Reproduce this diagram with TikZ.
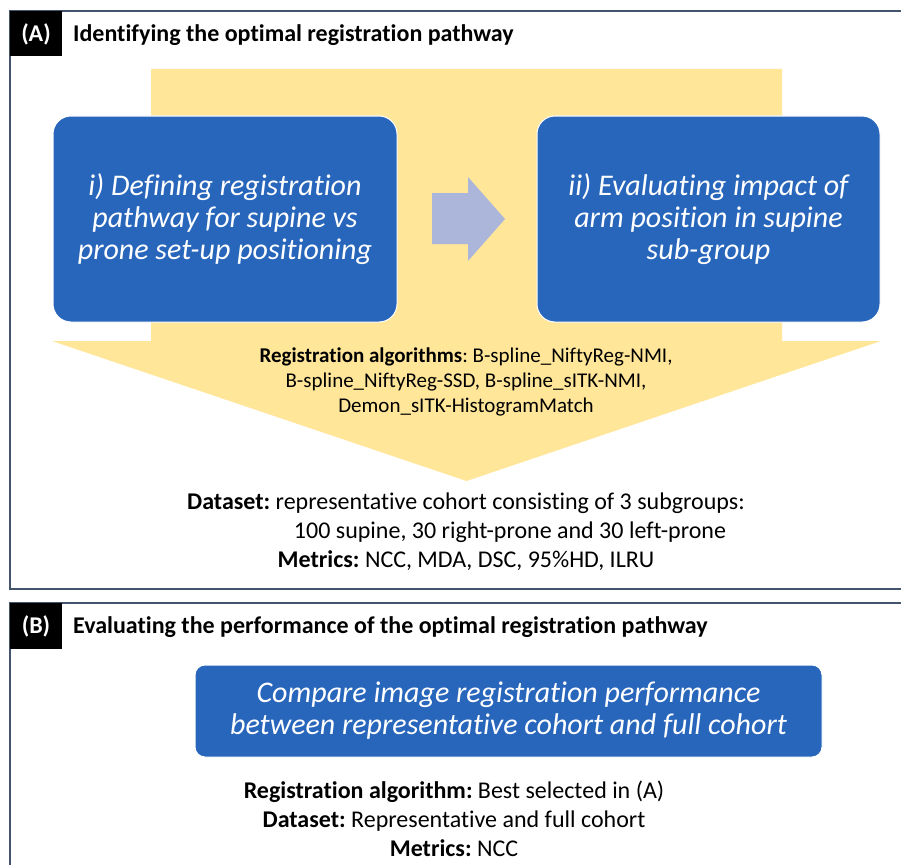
\documentclass[tikz,border=0pt]{standalone}
\usepackage{fontspec}
\setmainfont[Ligatures=NoCommon]{Carlito}
\usetikzlibrary{positioning}
\definecolor{frameC}{RGB}{68,84,106}
\definecolor{yel}{RGB}{255,230,153}
\definecolor{boxblue}{RGB}{40,102,188}
\definecolor{arrgrey}{RGB}{172,182,218}
\tikzset{
  frameline/.style={draw=frameC, line width=1.6pt},
  tab/.style={fill=black, draw=none},
  tabtxt/.style={text=white, font=\bfseries\fontsize{24}{28}\selectfont, anchor=base, inner sep=0pt},
  titletxt/.style={font=\bfseries\fontsize{24}{28}\selectfont, anchor=base west, inner sep=0pt},
  bluebox/.style={fill=boxblue, draw=white, line width=1pt, rounded corners=18pt, text=white,
    align=center, font=\itshape\fontsize{30}{32}\selectfont, inner sep=0pt},
  ytxt/.style={font=\fontsize{21}{25}\selectfont, anchor=base, inner sep=0pt},
  dtxt/.style={font=\fontsize{24}{29}\selectfont, anchor=base, inner sep=0pt}
}
\frenchspacing
\begin{document}
\begin{tikzpicture}[x=1pt,y=-1pt]
\useasboundingbox (0,0) rectangle (901,864);
\fill[white] (0,0) rectangle (901,864);
% panel A frame
\draw[frameline] (902,11) -- (10,11) -- (10,589) -- (902,589);
\fill[tab] (10,11) rectangle (62,56);
\node[tabtxt] (tabA) at (36,42) {(A)};
\node[titletxt] (titleA) at (73,42) {Identifying the optimal registration pathway};
% yellow big arrow
\fill[yel] (151,69) -- (782,69) -- (782,341) -- (881,341) -- (466.5,481) -- (52,341) -- (151,341) -- cycle;
% blue boxes
\node[bluebox, minimum width=344pt, minimum height=206pt] (box1) at (225,219)
  {i) Defining registration\\pathway for supine vs\\prone set-up positioning};
\node[bluebox, minimum width=343pt, minimum height=206pt] (box2) at (708.5,219)
  {ii) Evaluating impact of\\arm position in supine\\sub-group};
% grey arrow
\fill[arrgrey] (432,193) -- (468,193) -- (468,177) -- (505,219) -- (468,261) -- (468,244) -- (432,244) -- cycle;
% yellow text
\node[ytxt] (y1) at (466,362) {\textbf{Registration algorithms}: B-spline\_NiftyReg-NMI,};
\node[ytxt] (y2) at (466,387) {B-spline\_NiftyReg-SSD, B-spline\_sITK-NMI,};
\node[ytxt] (y3) at (466,412) {Demon\_sITK-HistogramMatch};
% dataset text
\node[dtxt] (d1) at (466,509) {\textbf{Dataset:} representative cohort consisting of 3 subgroups:};
\node[dtxt] (d2) at (510,538) {100 supine, 30 right-prone and 30 left-prone};
\node[dtxt] (d3) at (466,567) {\textbf{Metrics:} NCC, MDA, DSC, 95\%HD, ILRU};
% panel B frame
\draw[frameline] (902,603) -- (10,603) -- (10,866);
\fill[tab] (10,603) rectangle (62,649);
\node[tabtxt] (tabB) at (36,633) {(B)};
\node[titletxt] (titleB) at (73,633) {Evaluating the performance of the optimal registration pathway};
\node[bluebox, rounded corners=10pt, minimum width=627pt, minimum height=92pt] (box3) at (508.5,711)
  {Compare image registration performance\\between representative cohort and full cohort};
\node[dtxt] (b1) at (454,798) {\textbf{Registration algorithm:} Best selected in (A)};
\node[dtxt] (b2) at (454,827) {\textbf{Dataset:} Representative and full cohort};
\node[dtxt] (b3) at (454,856) {\textbf{Metrics:} NCC};
\end{tikzpicture}
\end{document}
